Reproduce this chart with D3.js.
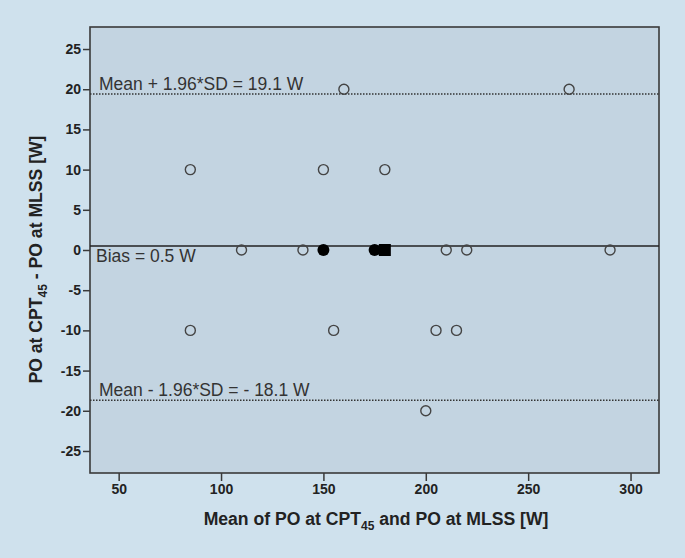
<!DOCTYPE html>
<html>
<head>
<meta charset="utf-8">
<title>Bland-Altman plot</title>
<style>
  body { margin: 0; background: #cfe1ed; }
  text { font-family: "Liberation Sans", Arial, sans-serif; fill: #222; }
  .tick text { font-weight: bold; font-size: 14px; }
  .axis-title { font-weight: bold; font-size: 17.6px; }
  .note { font-size: 17.5px; fill: #333; }
</style>
<script src="https://d3js.org/d3.v7.min.js"></script>
</head>
<body>
<div id="chart"></div>
<script>
// mean of the two methods (x) and their difference (y)
var openX = [160, 270, 85, 150, 180, 110, 140, 210, 220, 290, 85, 155, 205, 215, 200];
var openY = [20, 20, 10, 10, 10, 0, 0, 0, 0, 0, -10, -10, -10, -10, -20];
var filledX = [150, 175];
var filledY = [0, 0];
var squareX = [180];
var squareY = [0];

// limits of agreement as drawn, and their labels
var lineValues = [19.4, 0.5, -18.7];
var lineLabels = ["Mean + 1.96*SD = 19.1 W", "Bias = 0.5 W", "Mean - 1.96*SD = - 18.1 W"];
var lineDash = ["1.5,1.5", null, "1.5,1.5"];

var xTicks = [50, 100, 150, 200, 250, 300];
var yTicks = [25, 20, 15, 10, 5, 0, -5, -10, -15, -20, -25];

var W = 685, H = 558;
var margin = {top: 27, right: 26, bottom: 85, left: 90};
var width = W - margin.left - margin.right,
    height = H - margin.top - margin.bottom;

var svg = d3.select("#chart").append("svg")
  .attr("width", W)
  .attr("height", H);

svg.append("rect").attr("width", W).attr("height", H).attr("fill", "#cfe1ed");

var g = svg.append("g")
  .attr("transform", "translate(" + margin.left + "," + margin.top + ")");

var x = d3.scaleLinear().domain([36.0, 313.9]).range([0, width]);
var y = d3.scaleLinear().domain([-27.74, 27.74]).range([height, 0]);

// plot area
g.append("rect")
  .attr("width", width)
  .attr("height", height)
  .attr("fill", "#c3d4e1")
  .attr("stroke", "#3a3a3a")
  .attr("stroke-width", 1.6);

// axes (hyphen minus, like the original)
var fmt = d => String(d);
var xAxis = d3.axisBottom(x).tickValues(xTicks).tickSize(8).tickPadding(3).tickFormat(fmt);
var yAxis = d3.axisLeft(y).tickValues(yTicks).tickSize(7).tickPadding(2).tickFormat(fmt);

g.append("g")
  .attr("class", "x axis")
  .attr("transform", "translate(0," + height + ")")
  .call(xAxis)
  .call(s => s.select(".domain").remove());

g.append("g")
  .attr("class", "y axis")
  .call(yAxis)
  .call(s => s.select(".domain").remove());

g.selectAll(".tick line").attr("stroke", "#3a3a3a").attr("stroke-width", 1.5);
g.selectAll(".tick text").attr("fill", "#222");

// reference lines
g.selectAll(".ref")
  .data(lineValues)
  .enter().append("line")
  .attr("class", "ref")
  .attr("x1", 0).attr("x2", width)
  .attr("y1", d => y(d)).attr("y2", d => y(d))
  .attr("stroke", (d, i) => lineDash[i] ? "#333" : "#222")
  .attr("stroke-width", (d, i) => lineDash[i] ? 1.5 : 1.5)
  .attr("stroke-dasharray", (d, i) => lineDash[i]);

g.selectAll(".note")
  .data(lineLabels)
  .enter().append("text")
  .attr("class", "note")
  .attr("x", (d, i) => i == 1 ? 6 : 9)
  .attr("y", (d, i) => i == 1 ? y(lineValues[i]) + 16.5 : y(lineValues[i]) - 4)
  .text(d => d);

// points
var openPts = openX.map((d, i) => ({x: d, y: openY[i]}));
var filledPts = filledX.map((d, i) => ({x: d, y: filledY[i]}));
var squarePts = squareX.map((d, i) => ({x: d, y: squareY[i]}));

g.selectAll(".open")
  .data(openPts)
  .enter().append("circle")
  .attr("class", "open")
  .attr("cx", d => x(d.x))
  .attr("cy", d => y(d.y))
  .attr("r", 5)
  .attr("fill", "none")
  .attr("stroke", "#444")
  .attr("stroke-width", 1.4);

g.selectAll(".filled")
  .data(filledPts)
  .enter().append("circle")
  .attr("class", "filled")
  .attr("cx", d => x(d.x))
  .attr("cy", d => y(d.y))
  .attr("r", 6)
  .attr("fill", "#000");

g.selectAll(".square")
  .data(squarePts)
  .enter().append("rect")
  .attr("class", "square")
  .attr("x", d => x(d.x) - 6)
  .attr("y", d => y(d.y) - 6)
  .attr("width", 12)
  .attr("height", 12)
  .attr("fill", "#000");

// axis titles
var xt = svg.append("text")
  .attr("class", "axis-title")
  .attr("x", 376)
  .attr("y", 525)
  .attr("text-anchor", "middle");
xt.append("tspan").text("Mean of PO at CPT");
xt.append("tspan").attr("font-size", 12).attr("dy", 4.5).text("45");
xt.append("tspan").attr("dy", -4.5).text(" and PO at MLSS [W]");

var yt = svg.append("text")
  .attr("class", "axis-title")
  .attr("transform", "translate(42,259.5) rotate(-90)")
  .attr("text-anchor", "middle");
yt.append("tspan").text("PO at CPT");
yt.append("tspan").attr("font-size", 12).attr("dy", 4.5).text("45");
yt.append("tspan").attr("dy", -4.5).text(" - PO at MLSS [W]");
</script>
</body>
</html>
